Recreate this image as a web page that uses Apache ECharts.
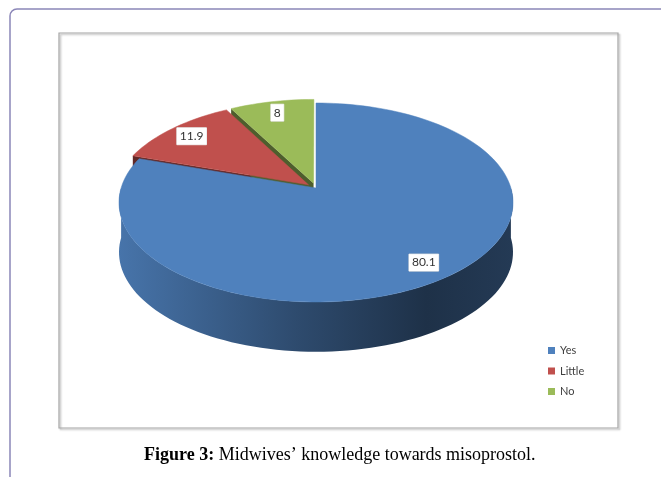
<!DOCTYPE html>
<html>
<head>
<meta charset="utf-8">
<script src="https://cdn.jsdelivr.net/npm/echarts@6/dist/echarts.min.js"></script>
<style>
html, body { margin: 0; padding: 0; background: #fff; }
#main { width: 661px; height: 477px; }
</style>
</head>
<body>
<div id="main"></div>
<script>
// data
var categories = ['Yes', 'Little', 'No'];
var values = [80.1, 11.9, 8];
var labels = ['80.1', '11.9', '8'];
var exploded = [0, 1, 1];
var colors = ['#4f81bd', '#c0504d', '#9bbb59'];

// look of the fake 3d pie
var TILT = -0.146;   // perspective, pulls the apex back
var DEPTH = 0.5;     // thickness, in y-axis units
var EXPLODE = 0.05;
var LABEL_R = 0.85;

var total = values.reduce(function (a, b) { return a + b; }, 0);
var starts = [], ends = [];
var acc = 0;
values.forEach(function (v) {
	starts.push(acc / total * 360);
	acc += v;
	ends.push(acc / total * 360);
});

// clockwise from 12 o'clock, s grows downward
function dir(deg) {
	var r = deg * Math.PI / 180;
	return [Math.sin(r), -Math.cos(r)];
}
function offset(i) {
	if (!exploded[i]) return [0, 0];
	var d = dir((starts[i] + ends[i]) / 2);
	return [d[0] * EXPLODE, d[1] * EXPLODE];
}
function pt(api, i, x, s, h) {
	var o = offset(i);
	x += o[0];
	s += o[1];
	var q = 1 + TILT * s;
	var c = Math.sqrt(1 - TILT * TILT);
	return api.coord([x * c / q, (s + TILT) / q + h * DEPTH]);
}
function rim(api, i, a0, a1, h) {
	var pts = [];
	var n = Math.max(2, Math.ceil((a1 - a0) / 2));
	for (var j = 0; j <= n; j++) {
		var d = dir(a0 + (a1 - a0) * j / n);
		pts.push(pt(api, i, d[0], d[1], h));
	}
	return pts;
}
function dark(c, k) {
	var n = parseInt(c.slice(1), 16);
	var r = Math.round(((n >> 16) & 255) * (1 - k));
	var g = Math.round(((n >> 8) & 255) * (1 - k));
	var b = Math.round((n & 255) * (1 - k));
	return 'rgb(' + r + ',' + g + ',' + b + ')';
}
function cutFace(api, i, a) {
	var d = dir(a);
	return {
		type: 'polygon',
		shape: { points: [pt(api, i, 0, 0, 0), pt(api, i, d[0], d[1], 0), pt(api, i, d[0], d[1], 1), pt(api, i, 0, 0, 1)] },
		style: { fill: dark(colors[i], 0.5) }
	};
}

function renderSides(params, api) {
	var i = params.dataIndex;
	var a0 = starts[i], a1 = ends[i];
	var children = [];
	if (Math.sin(a0 * Math.PI / 180) < -1e-6) children.push(cutFace(api, i, a0));
	if (Math.sin(a1 * Math.PI / 180) > 1e-6) children.push(cutFace(api, i, a1));
	var lo = Math.max(a0, 90), hi = Math.min(a1, 270);
	if (lo < hi) {
		var pts = rim(api, i, lo, hi, 0).concat(rim(api, i, lo, hi, 1).reverse());
		children.push({
			type: 'polygon',
			shape: { points: pts },
			style: {
				fill: {
					type: 'linear', x: 0, y: 0, x2: 1, y2: 0,
					colorStops: [
						{ offset: 0, color: dark(colors[i], 0.1) },
						{ offset: 0.45, color: dark(colors[i], 0.42) },
						{ offset: 0.78, color: dark(colors[i], 0.62) },
						{ offset: 1, color: dark(colors[i], 0.55) }
					]
				}
			}
		});
	}
	return { type: 'group', children: children };
}

function renderTops(params, api) {
	var i = params.dataIndex;
	var pts = [pt(api, i, 0, 0, 0)].concat(rim(api, i, starts[i], ends[i], 0));
	var m = dir((starts[i] + ends[i]) / 2);
	var lp = pt(api, i, m[0] * LABEL_R, m[1] * LABEL_R, 0);
	return {
		type: 'group',
		children: [{
			type: 'polygon',
			shape: { points: pts },
			style: { fill: colors[i], stroke: colors[i], lineWidth: 0.5 }
		}, {
			type: 'text',
			x: lp[0], y: lp[1], z2: 10,
			style: {
				text: labels[i],
				fill: '#333',
				fontFamily: 'Lato',
				fontSize: 12,
				align: 'center',
				verticalAlign: 'middle',
				backgroundColor: '#fff',
				borderColor: '#ddd',
				borderWidth: 0.5,
				padding: [3, 3, 2, 3]
			}
		}]
	};
}

var myChart = echarts.init(document.getElementById('main'));
var option = {
	animation: false,
	backgroundColor: '#fff',
	title: {
		text: '{b|Figure 3:} Midwives\u2019 knowledge towards misoprostol.',
		left: 139,
		top: 441,
		textStyle: {
			fontFamily: 'Liberation Serif',
			fontSize: 18,
			fontWeight: 'normal',
			color: '#000',
			rich: {
				b: { fontFamily: 'Liberation Serif', fontSize: 18, fontWeight: 'bold', color: '#000' }
			}
		}
	},
	legend: {
		data: categories,
		orient: 'vertical',
		left: 543,
		top: 340,
		icon: 'rect',
		itemWidth: 7,
		itemHeight: 7,
		itemGap: 9.5,
		selectedMode: false,
		textStyle: { fontFamily: 'Lato', fontSize: 11, color: '#404040' }
	},
	graphic: [{
		type: 'rect',
		shape: { x: 10, y: 9, width: 720, height: 520, r: 7 },
		style: { fill: 'none', stroke: '#8b86b8', lineWidth: 1.5 }
	}, {
		type: 'rect',
		shape: { x: 59, y: 33, width: 559, height: 395 },
		style: {
			fill: 'none', stroke: '#a6a6a6', lineWidth: 1.2,
			shadowBlur: 2, shadowColor: 'rgba(0,0,0,0.3)', shadowOffsetX: 1.5, shadowOffsetY: 1.5
		}
	}],
	grid: { left: 119, top: 103, width: 394, height: 199 },
	xAxis: { type: 'value', min: -1, max: 1, show: false },
	yAxis: { type: 'value', min: -1, max: 1, inverse: true, show: false },
	series: [{
		name: 'sides',
		type: 'custom',
		silent: true,
		clip: false,
		z: 1,
		renderItem: renderSides,
		data: values
	}, {
		name: 'tops',
		type: 'custom',
		silent: true,
		clip: false,
		z: 2,
		renderItem: renderTops,
		data: values
	}].concat(categories.map(function (c, i) {
		return { name: c, type: 'line', data: [], itemStyle: { color: colors[i] } };
	}))
};
myChart.setOption(option, true);
</script>
</body>
</html>
